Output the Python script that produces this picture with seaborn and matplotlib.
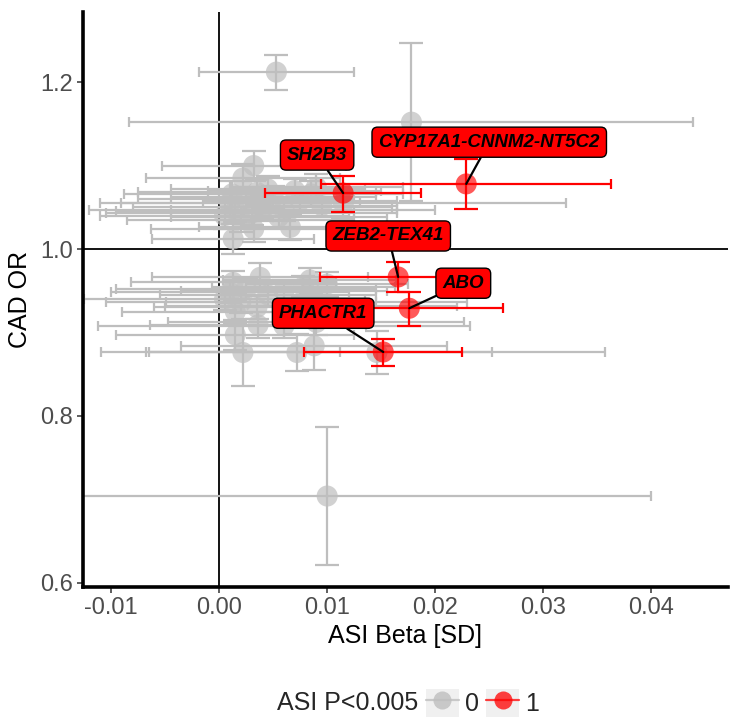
import numpy as np
import pandas as pd
import matplotlib
matplotlib.use("Agg")
import matplotlib.pyplot as plt
import seaborn as sns
from matplotlib.lines import Line2D
from matplotlib.patches import Rectangle
from matplotlib.legend_handler import HandlerTuple

sns.set_theme(style="white")
plt.rcParams['font.family'] = ['Liberation Sans', 'DejaVu Sans']

# ---------------- data ----------------
# non-significant loci (ASI P >= 0.005)
gray_beta = [0.0053, 0.0178, 0.0100,
             0.0032, 0.0022, 0.0013, 0.0032, 0.0066, 0.0010, 0.0015, 0.0025,
             0.0040, 0.0050, 0.0060, 0.0075, 0.0085, 0.0095, 0.0005, 0.0020,
             0.0045, 0.0090, 0.0115, 0.0030, 0.0055, 0.0035, 0.0012, 0.0070,
             0.0040,
             0.0013, 0.0038, 0.0084, 0.0100, 0.0010, 0.0025, 0.0005, 0.0020,
             0.0045, 0.0090, 0.0085, 0.0035, 0.0015, 0.0036, 0.0090, 0.0060,
             0.0015, 0.0022, 0.0072, 0.0088, 0.0146, 0.0060, 0.0078]
gray_beta_err = [0.0072, 0.0261, 0.0300,
                 0.0085, 0.0090, 0.0075, 0.0095, 0.0085, 0.0120, 0.0110, 0.0100,
                 0.0120, 0.0095, 0.0105, 0.0090, 0.0085, 0.0070, 0.0115, 0.0105,
                 0.0090, 0.0080, 0.0206, 0.0135, 0.0100, 0.0110, 0.0100, 0.0080,
                 0.0160,
                 0.0095, 0.0100, 0.0080, 0.0075, 0.0110, 0.0120, 0.0130, 0.0125,
                 0.0100, 0.0139, 0.0135, 0.0095, 0.0105, 0.0100, 0.0137, 0.0172,
                 0.0110, 0.0090, 0.0181, 0.0123, 0.0211, 0.0095, 0.0085]
gray_or = [1.212, 1.152, 0.704,
           1.100, 1.085, 1.012, 1.024, 1.026, 1.055, 1.046, 1.060,
           1.050, 1.062, 1.047, 1.058, 1.066, 1.052, 1.040, 1.035,
           1.072, 1.074, 1.055, 1.043, 1.038, 1.068, 1.066, 1.070,
           1.047,
           0.960, 0.966, 0.963, 0.958, 0.948, 0.952, 0.940, 0.936,
           0.945, 0.937, 0.932, 0.930, 0.925, 0.909, 0.912, 0.908,
           0.897, 0.876, 0.876, 0.884, 0.876, 0.950, 0.955]
gray_or_err = [0.021, 0.095, 0.083,
               0.018, 0.017, 0.018, 0.016, 0.015, 0.015, 0.014, 0.014,
               0.013, 0.014, 0.013, 0.014, 0.015, 0.014, 0.016, 0.015,
               0.015, 0.016, 0.018, 0.014, 0.013, 0.015, 0.016, 0.014,
               0.014,
               0.014, 0.017, 0.014, 0.015, 0.013, 0.012, 0.013, 0.013,
               0.013, 0.014, 0.014, 0.014, 0.014, 0.016, 0.015, 0.015,
               0.018, 0.040, 0.022, 0.029, 0.026, 0.013, 0.013]

# significant loci (ASI P < 0.005)
red_genes = ["SH2B3", "CYP17A1-CNNM2-NT5C2", "ZEB2-TEX41", "ABO", "PHACTR1"]
red_beta = [0.01148, 0.02287, 0.01657, 0.01760, 0.01519]
red_beta_err = [0.0072, 0.0134, 0.0072, 0.0087, 0.0073]
red_or = [1.067, 1.078, 0.9665, 0.929, 0.8766]
red_or_lo = [1.044, 1.048, 0.948, 0.908, 0.860]
red_or_hi = [1.087, 1.108, 0.984, 0.948, 0.892]

# label positions
label_x = [0.00907, 0.0250, 0.01565, 0.0226, 0.00963]
label_y = [1.1126, 1.128, 1.0156, 0.959, 0.923]

x_ticks = [-0.01, 0.00, 0.01, 0.02, 0.03, 0.04]
x_tick_labels = ["-0.01", "0.00", "0.01", "0.02", "0.03", "0.04"]
y_ticks = [0.6, 0.8, 1.0, 1.2]
y_tick_labels = ["0.6", "0.8", "1.0", "1.2"]

df = pd.DataFrame({
    "beta": gray_beta + red_beta,
    "cad_or": gray_or + red_or,
    "sig": [0] * len(gray_beta) + [1] * len(red_beta),
})

GRAY = "#BEBEBE"
RED = "#FF0000"

fig = plt.figure(figsize=(7.44, 7.23), dpi=100)
ax = fig.add_axes([83 / 744, 1 - 587 / 723, (728 - 83) / 744, (587 - 12) / 723])

ax.axhline(1.0, color="black", lw=1.3, zorder=1)
ax.axvline(0.0, color="black", lw=1.3, zorder=1)

# gray error bars
ax.errorbar(gray_beta, gray_or, xerr=gray_beta_err, fmt="none", ecolor=GRAY,
            elinewidth=1.6, capsize=3.5, capthick=1.6, zorder=2)
ax.errorbar(gray_beta, gray_or, yerr=gray_or_err, fmt="none", ecolor=GRAY,
            elinewidth=1.6, capsize=8.5, capthick=1.6, zorder=2)

sns.scatterplot(data=df[df.sig == 0], x="beta", y="cad_or", color=GRAY, s=230,
                alpha=0.7, edgecolor="none", legend=False, ax=ax, zorder=3)

# red error bars
red_yerr = [np.array(red_or) - np.array(red_or_lo), np.array(red_or_hi) - np.array(red_or)]
ax.errorbar(red_beta, red_or, xerr=red_beta_err, fmt="none", ecolor=RED,
            elinewidth=1.6, capsize=3.5, capthick=1.6, zorder=4)
ax.errorbar(red_beta, red_or, yerr=red_yerr, fmt="none", ecolor=RED,
            elinewidth=1.6, capsize=8.5, capthick=1.6, zorder=4)
sns.scatterplot(data=df[df.sig == 1], x="beta", y="cad_or", color=RED, s=230,
                alpha=0.65, edgecolor="none", legend=False, ax=ax, zorder=5)

for g, bx, by, lx, ly in zip(red_genes, red_beta, red_or, label_x, label_y):
    ax.annotate(g, xy=(bx, by), xytext=(lx, ly), textcoords="data",
                ha="center", va="center", fontsize=13.5, fontweight="bold",
                fontstyle="italic", color="black", zorder=6,
                bbox=dict(boxstyle="round,pad=0.35,rounding_size=0.3",
                          fc=RED, ec="black", lw=1.0),
                arrowprops=dict(arrowstyle="-", color="black", lw=1.6,
                                shrinkA=0, shrinkB=0))

ax.set_xlim(-0.0126, 0.0471)
ax.set_ylim(0.595, 1.284)
ax.set_xticks(x_ticks)
ax.set_xticklabels(x_tick_labels)
ax.set_yticks(y_ticks)
ax.set_yticklabels(y_tick_labels)

for s in ["top", "right"]:
    ax.spines[s].set_visible(False)
for s in ["left", "bottom"]:
    ax.spines[s].set_linewidth(2.6)
    ax.spines[s].set_color("black")

ax.tick_params(axis="both", which="major", length=4, width=1.1, color="#333333",
               labelcolor="#4D4D4D", labelsize=17, bottom=True, left=True, pad=3)
ax.set_xlabel("ASI Beta [SD]", fontsize=18, color="black", labelpad=4)
ax.set_ylabel("CAD OR", fontsize=18, color="black", labelpad=6)

# legend
fig.text(277 / 744, 1 - 703 / 723, "ASI P<0.005", fontsize=18, ha="left", va="center")
key_bg = "#F0F0F0"
h0 = (Rectangle((0, 0), 1, 1, fc=key_bg, ec="none"),
      Line2D([], [], color=GRAY, lw=1.6, marker="o", ms=13, mec="none", alpha=0.8))
h1 = (Rectangle((0, 0), 1, 1, fc=key_bg, ec="none"),
      Line2D([], [], color=RED, lw=1.6, marker="o", ms=13, mec="none", alpha=0.75))
fig.legend(handles=[h0, h1], labels=["0", "1"], ncol=2, loc="center left",
           bbox_to_anchor=(426 / 744, 1 - 703 / 723), frameon=False,
           handler_map={tuple: HandlerTuple(ndivide=1, pad=0)},
           handlelength=1.3, handleheight=1.3, handletextpad=0.25,
           columnspacing=0.3, fontsize=18, borderaxespad=0, borderpad=0)

fig.savefig("out.png", dpi=100)
